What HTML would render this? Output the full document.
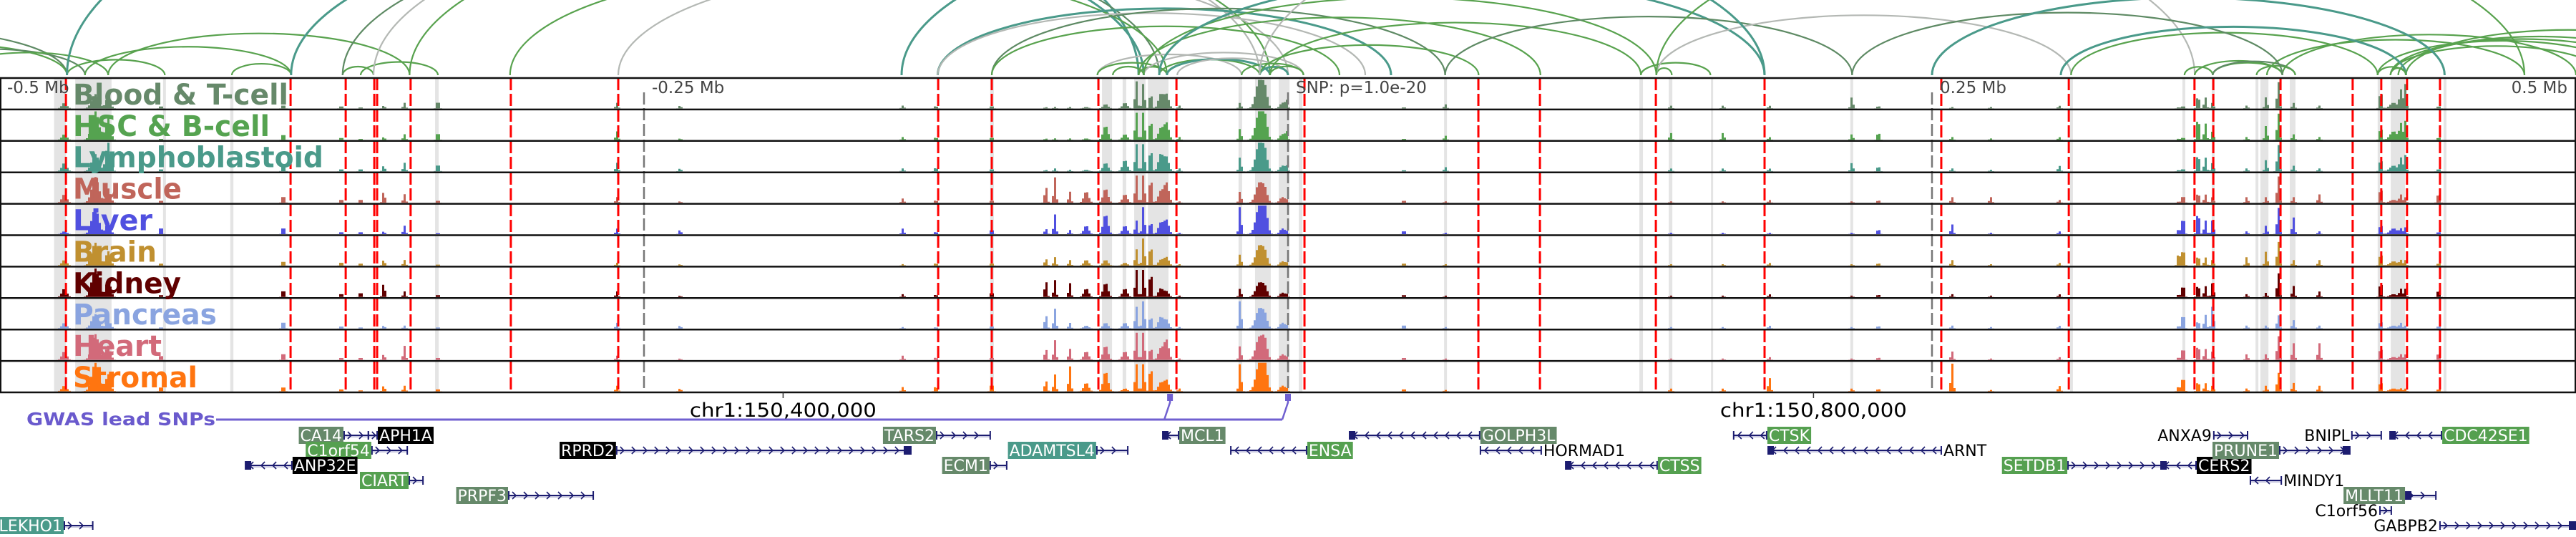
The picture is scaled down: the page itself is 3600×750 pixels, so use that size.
<!DOCTYPE html>
<html><head><meta charset="utf-8"><style>
html,body{margin:0;padding:0;background:#fff;width:3600px;height:750px;overflow:hidden}
svg{display:block}
text{font-family:"DejaVu Sans","Liberation Sans",sans-serif}
</style></head><body>
<svg id="chart" width="3600" height="750" viewBox="0 0 3600 750" xmlns="http://www.w3.org/2000/svg">
<g id="arcs"></g>
<g id="shade"></g>
<g id="signals"></g>
<g id="vlines"></g>
<g id="frames"></g>
<g id="labels"></g>
<g id="genes"></g>
</svg>
<script>
// ---- data (positions in kb relative to lead SNP) ----
const trackNames = ["Blood & T-cell","HSC & B-cell","Lymphoblastoid","Muscle","Liver","Brain","Kidney","Pancreas","Heart","Stromal"];
const trackColors = ["#66896a","#55a350","#4a9a8a","#c0655a","#5050e0","#c09030","#600000","#8aa4e0","#d26a7a","#ff7510"];
const trackLabelWidths = [301,275,350,152,111,117,151,201,124,174];
const axisTickKb = [-500,-250,0,250,500];
const axisTickLabels = ["-0.5 Mb","-0.25 Mb","SNP: p=1.0e-20","0.25 Mb","0.5 Mb"];
const peakPosKb = [-475,-463,-458,-437.5,-390,-367.5,-360,-351,-343,-330,-260.5,-236,-149.5,-136.7,-115,-94,-90.5,-84.7,-78.3,-70.8,-63.3,-58.9,-56.1,-53.3,-49.4,-47.2,-42.2,-18.6,-11.1,-8.9,-2.2,-0.6,45,61.1,148.6,168.9,186.9,218.9,229.2,257.8,272.8,299.4,345.8,347.5,353.3,356.1,358.9,372.2,379.7,384.4,390.3,400.3,424.2,429.2,431.9,433.6,446.7];
const peakWidthKb = [2,3,2,1,1,1,1,1,1,1,1,1,1,1,1,1,1,1,2,2,2,1,1,1,2,2,1,1,3,2,2,1,1,1,1,1,1,1,1,1,1,1,1,1,1,1,1,1,1,0.5,1,1,1,3,1,1,1];
const peakHeights = [
[.2,.2,.3,.3,.1,.2,.3,.2,.3,.2],[.5,1,.6,.9,.9,.8,1,.5,.9,1],[.4,.8,1,.5,.4,.5,.6,.3,.5,.6],[.1,.05,.1,.1,.3,.1,.1,.05,.2,.2],
[.15,.25,.3,.3,.3,.2,.3,.3,.3,.2],[.1,.1,.1,.15,.1,.15,.15,.1,.1,.1],[.05,.05,.1,.15,.1,.1,.2,.05,.1,.05],[.1,.1,.2,.4,.1,.2,.5,.1,.2,.2],
[.2,.2,.3,.3,.3,.2,.2,.1,.5,.2],[.3,.3,.3,.1,.05,.05,.1,.05,.1,.1],[.2,.3,.3,.2,.2,.1,.2,.2,.15,.2],[.1,.05,.1,.05,.15,.05,.05,.1,.05,.1],
[.1,.1,.1,.15,.2,.05,.1,.05,.15,.15],[.1,.1,.15,.1,.1,.1,.1,.05,.1,.2],[.1,.1,.1,.1,.2,.1,.2,.1,.1,.3],[.05,.05,.05,.6,.2,.25,.6,.5,.4,.4],
[.05,.05,.1,.9,.7,.3,.6,.7,.7,.6],[.05,.05,.05,.4,.15,.2,.5,.2,.4,.9],[.05,.05,.05,.4,.3,.2,.3,.1,.3,.3],[.15,.5,.3,.5,.7,.2,.5,.2,.5,.7],
[.2,.2,.4,.3,.3,.1,.3,.2,.3,.1],[1,1,1,1,.5,.6,1,.8,1,1],[.9,1,1,1,1,1,1,1,1,1],[.6,.8,.9,1,.5,.8,1,.5,.5,1],
[.5,.4,.6,.4,.4,.2,.3,.4,.4,.3],[.5,.6,.5,.7,.5,.3,.2,.3,.7,.4],[.1,.1,.1,.05,.05,.05,.05,.05,.05,.1],[.2,.4,.5,.4,1,.4,.3,1,.5,1],
[1,1,1,.7,1,.7,.5,.7,.8,1],[.6,.7,.6,.4,.9,.4,.3,.4,.6,.9],[.2,.2,.2,.2,.2,.15,.15,.2,.2,.2],[.3,.3,.2,.1,.1,.1,.1,.1,.1,.1],
[.05,.05,.05,.1,.15,.1,.1,.15,.1,.1],[.15,.15,.15,.05,.05,.05,.05,.05,.05,.05],[.1,.25,.1,.05,.05,.05,.05,.05,.05,.1],[.1,.25,.1,.05,.05,.05,.05,.05,.05,.1],
[.1,.1,.1,.1,.05,.1,.1,.1,.1,.5],[.4,.2,.3,.05,.05,.05,.05,.05,.05,.1],[.1,.3,.2,.1,.2,.1,.1,.1,.1,.1],[.05,.1,.1,.2,.35,.2,.1,.1,.3,1],
[.05,.05,.05,.2,.05,.05,.05,.05,.05,.05],[.1,.1,.2,.1,.1,.1,.1,.1,.1,.2],[.05,.05,.05,.05,.2,.5,.1,.1,.1,.2],[.1,.1,.1,.3,.7,.7,.5,.6,.5,.6],
[.5,.9,.7,.4,.9,.4,.5,.3,.6,.4],[.4,.6,.5,.3,.5,.3,.4,.5,.4,.3],[.2,.3,.3,.2,.5,.2,.5,.8,.3,.2],[.1,.1,.1,.2,.1,.3,.1,.1,.2,.1],
[.4,.5,.4,.2,.3,.5,.15,.1,.2,.2],[1,1,1,1,1,.9,.9,.5,.9,.7],[.2,.2,.2,.2,.6,.2,.4,.3,.6,.3],[.1,.1,.1,.3,.1,.2,.2,.1,.6,.2],
[.7,.5,.5,.6,.4,.5,.6,.3,.5,.4],[.2,.3,.2,.1,.2,.15,.1,.1,.1,.1],[.7,.6,.5,.3,.2,.2,.3,.2,.2,.1],[.9,.7,.6,.2,.25,.2,.3,.1,.2,.1],
[.1,.1,.1,.4,.1,.1,.3,.1,.3,.1]];
const redLineKb = [-474.4,-387.2,-365.8,-354.7,-353.6,-340.6,-301.7,-260,-135.8,-115,-73.6,-43.3,6.4,73.9,97.8,142.8,185,253.6,303.1,351.9,359.2,385.3,413.3,424.4,434.4,447.2];
const shadeStartKb = [-479,-470.8,-436.7,-410.6,-331.1,-115.6,-72.2,-64.2,-59.7,-54.4,-19.2,-12.8,-3.6,4.2,60.6,136.4,147.8,164.2,218.3,303.6,347.2,358.6,375.6,377.5,388.9,423,428.1,448.6];
const shadeEndKb   = [-474.4,-456.7,-435.6,-409.4,-329.7,-114.2,-68.3,-62.8,-55.3,-46.4,-17.8,-6.7,0.6,5.6,61.7,137.8,149.2,164.7,219.4,304.7,348.3,359.7,376.7,380.6,391.1,423.9,433.6,449.7];
const arcFromKb = [-600,-560,-540,-520,-474,-467,-458,-474,-410,-387,-367,-367,-360,-355,-341,-302,-260,-136,-136,-115,-115,-74,-74,-68,-58,-56,-50,-47,-43,-18,-11,-7,-58,-56,-50,-11,-7,61,137,143,143,-11,143,-150,348,352,359,359,376,380,386,304,219,423,428,431,434,428,300,250,423,428];
const arcToKb   = [-474,-474,-467,-458,-436,-387,-341,-58,-387,-56,-355,-50,-330,-11,-7,-47,0,40,30,61,20,-18,-47,-56,-47,6,-11,-7,0,6,0,6,98,143,185,74,137,219,164,149,304,352,480,185,359,386,386,391,391,480,500,423,386,520,530,540,560,510,434,449,434,434];
const arcType   = ["b","g","b","g","g","g","g","t","g","t","g","b","g","y","g","g","y","t","y","b","g","y","g","g","g","y","g","t","y","g","t","g","g","g","t","g","g","b","g","g","y","y","g","t","g","g","g","b","g","g","g","g","b","g","g","g","g","g","t","t","g","g"];
const chrTickKb = [-196, 204];
const chrTickLabels = ["chr1:150,400,000","chr1:150,800,000"];
const gwasSnpKb = [-45.8, 0];
const geneNames  = ["CA14","APH1A","C1orf54","RPRD2","ANP32E","CIART","PRPF3","PLEKHO1","TARS2","ADAMTSL4","ECM1","MCL1","ENSA","GOLPH3L","HORMAD1","CTSS","CTSK","ARNT","SETDB1","CERS2","ANXA9","PRUNE1","BNIPL","CDC42SE1","MINDY1","MLLT11","C1orf56","GABPB2"];
const geneStart  = [-366.4,-357,-355.6,-260.6,-404.7,-341.1,-302.5,-475,-136.4,-74.2,-115.6,-48.6,-22.2,23.9,74.7,107.8,173,186.4,302.8,338.9,359.4,385,413,427.8,373.6,433.9,423.9,447.2];
const geneEnd    = [-357,-353.6,-341.9,-146.4,-386.7,-335.8,-269.7,-464,-115.6,-62.2,-109.2,-42.5,7.2,74.4,98.3,143.3,185.8,253.6,338.9,352.5,372.5,412.2,424.4,447.8,385.6,445.6,428.3,500];
const geneStrand = [1,1,1,1,-1,1,1,1,1,1,1,-1,-1,-1,-1,-1,-1,-1,1,-1,1,1,1,-1,-1,1,1,1];
const geneRow    = [0,0,1,1,2,3,4,6,0,1,2,0,1,0,1,2,0,1,2,2,0,1,0,0,3,4,5,6];
const geneLabelSide = ["L","R","L","L","R","L","L","L","L","L","L","R","R","R","R","R","R","R","L","R","L","L","L","R","R","L","L","L"];
const geneLabelStyle = ["b","k","g","k","k","g","b","t","b","t","b","b","g","b","n","g","g","n","g","k","n","b","n","g","n","b","n","n"];
const geneBox = [0,0,0,2,1,0,0,0,0,0,0,1,0,1,0,1,0,1,0,1,0,2,0,1,0,1,0,2];

// ---- layout ----
const X0 = 1800, PXKB = 3.6;
const xs = kb => X0 + kb * PXKB;
const TT = 109, TH = 43.9, NT = 10, TB = TT + TH * NT;
const ARC_BASE = 105;
const NS = "http://www.w3.org/2000/svg";
function mk(tag, attrs, parent) { const e = document.createElementNS(NS, tag); for (const k in attrs) e.setAttribute(k, attrs[k]); parent.appendChild(e); return e; }
const arcColors = {b:"#5e8a64", g:"#58a24e", t:"#4a9a8a", y:"#b4b8b4"};

const gArcs = document.getElementById("arcs");
for (let i = 0; i < arcFromKb.length; i++) {
  const a = xs(arcFromKb[i]), b = xs(arcToKb[i]);
  const span = Math.abs(b - a), h = 8 + span * 0.09 + span * span * 0.00007;
  const c = arcType[i] === "t" ? 3 : 2.2;
  const p = mk("path", {d:`M${a},${ARC_BASE} A${span/2},${h} 0 0 1 ${b},${ARC_BASE}`, fill:"none", stroke:arcColors[arcType[i]], "stroke-width":c}, gArcs);
  
  
}

const gShade = document.getElementById("shade");
for (let i = 0; i < shadeStartKb.length; i++) {
  const a = xs(shadeStartKb[i]), b = xs(shadeEndKb[i]);
  const r = mk("rect", {x:a, y:TT, width:Math.max(3, b - a), height:TB - TT, fill:"#e4e4e4"}, gShade);
  
  
}

const gSig = document.getElementById("signals");
for (let t = 0; t < NT; t++) {
  const base = TT + TH * (t + 1) - 1.5, maxH = TH - 4;
  let d = `M0,${base}`;
  for (let x = 0; x < 3600; x += 3) {
    let v = 0;
    const xc = x + 1.5;
    for (let k = 0; k < peakPosKb.length; k++) {
      const s = Math.max(1.6, peakWidthKb[k] * PXKB / 2.2);
      const dx = (xc - xs(peakPosKb[k])) / s;
      if (Math.abs(dx) < 4) v += peakHeights[k][t] * Math.exp(-0.5 * dx * dx);
    }
    v = Math.min(1, v);
    const y = (base - v * maxH).toFixed(1);
    d += `L${x},${y}L${x + 3},${y}`;
  }
  d += `L3600,${base}Z`;
  const p = mk("path", {d, fill:trackColors[t]}, gSig);
  
  
}

const gV = document.getElementById("vlines");
for (let i = 0; i < redLineKb.length; i++) {
  const x = xs(redLineKb[i]);
  const l = mk("line", {x1:x, x2:x, y1:TT, y2:TB, stroke:"#ff0000", "stroke-width":3, "stroke-dasharray":"17 5"}, gV);
  
  
}
for (let i = 1; i < 4; i++) {
  const x = xs(axisTickKb[i]);
  const l = mk("line", {x1:x, x2:x, y1:TT + 20, y2:TB, stroke:"#777", "stroke-width":2.5, "stroke-dasharray":"17 5"}, gV);
  
  
}

const gF = document.getElementById("frames");
for (let t = 0; t <= NT; t++) {
  const y = TT + TH * t;
  const l = mk("line", {x1:0, x2:3600, y1:y, y2:y, stroke:"#111", "stroke-width":2.5}, gF);
  
  
}
const fl = mk("line", {x1:1, x2:1, y1:TT, y2:TB, stroke:"#111", "stroke-width":2}, gF);


const fr = mk("line", {x1:3599, x2:3599, y1:TT, y2:TB, stroke:"#111", "stroke-width":2}, gF);



const gL = document.getElementById("labels");
for (let t = 0; t < NT; t++) {
  const y = TT + TH * (t + 1) - 7;
  const tx = mk("text", {x:102, y, fill:trackColors[t], "font-size":40, "font-weight":"bold", textLength:trackLabelWidths[t], lengthAdjust:"spacingAndGlyphs"}, gL);
  tx.textContent = trackNames[t];
  
  
}
for (let i = 0; i < axisTickKb.length; i++) {
  let x = xs(axisTickKb[i]), anchor = "start";
  if (i === 0) x = 10; else x += 11;
  if (i === 4) { x = 3588; anchor = "end"; }
  const tx = mk("text", {x, y:130, fill:"#444", "font-size":23, "text-anchor":anchor}, gL);
  tx.textContent = axisTickLabels[i];
  
  
}

const gG = document.getElementById("genes");
for (let i = 0; i < chrTickKb.length; i++) {
  const x = xs(chrTickKb[i]);
  const l = mk("line", {x1:x, x2:x, y1:TB, y2:TB + 8, stroke:"#333", "stroke-width":1.5}, gG);
  
  
  const tx = mk("text", {x, y:582, "font-size":27, "text-anchor":"middle", fill:"#000", textLength:261, lengthAdjust:"spacingAndGlyphs"}, gG);
  tx.textContent = chrTickLabels[i];
  
  
}
const gw = mk("text", {x:37, y:594, "font-size":25, "font-weight":"bold", fill:"#6a5acd", textLength:264, lengthAdjust:"spacingAndGlyphs"}, gG);
gw.textContent = "GWAS lead SNPs";


const gl = mk("line", {x1:302, x2:xs(gwasSnpKb[1]) - 8, y1:586, y2:586, stroke:"#7060d0", "stroke-width":3}, gG);


for (let i = 0; i < gwasSnpKb.length; i++) {
  const x = xs(gwasSnpKb[i]);
  const c = mk("path", {d:`M${x - 8},586 L${x},562 L${x},556`, fill:"none", stroke:"#7060d0", "stroke-width":2.5}, gG);
  
  
  const r = mk("rect", {x:x - 4, y:550, width:8, height:10, fill:"#7060d0"}, gG);
  
  
}
const labelBg = {b:"#66896a", g:"#55a050", t:"#4a9a8a", k:"#000", n:null};
for (let i = 0; i < geneNames.length; i++) {
  const a = xs(geneStart[i]), b = xs(geneEnd[i]), y = 608 + geneRow[i] * 21;
  const g = mk("g", {}, gG);
  
  
  mk("line", {x1:a, x2:b, y1:y, y2:y, stroke:"#1c1c70", "stroke-width":2}, g);
  mk("line", {x1:a, x2:b, y1:y + 2, y2:y + 2, stroke:"#9090c0", "stroke-width":1}, g);
  let ch = "";
  for (let x = a + 8; x < b - 4; x += 16) {
    if (geneStrand[i] > 0) ch += `M${x - 3},${y - 5}L${x + 2},${y}L${x - 3},${y + 5}`;
    else ch += `M${x + 3},${y - 5}L${x - 2},${y}L${x + 3},${y + 5}`;
  }
  mk("path", {d:ch, fill:"none", stroke:"#1c1c70", "stroke-width":1.6}, g);
  mk("line", {x1:a, x2:a, y1:y - 6, y2:y + 6, stroke:"#1c1c70", "stroke-width":2}, g);
  mk("line", {x1:b, x2:b, y1:y - 6, y2:y + 6, stroke:"#1c1c70", "stroke-width":2}, g);
  if (geneBox[i] === 1) mk("rect", {x:a, y:y - 6, width:8, height:12, fill:"#1c1c70"}, g);
  if (geneBox[i] === 2) mk("rect", {x:b - 10, y:y - 6, width:10, height:12, fill:"#1c1c70"}, g);
  const fs = 22;
  const tmp = mk("text", {x:0, y:0, "font-size":fs}, g);
  tmp.textContent = geneNames[i];
  const w = tmp.getComputedTextLength() + 4;
  g.removeChild(tmp);
  const lx = geneLabelSide[i] === "L" ? a - 1 - w : b + 1;
  const bg = labelBg[geneLabelStyle[i]];
  if (bg) mk("rect", {x:lx, y:y - 12, width:w, height:24, fill:bg}, g);
  const tx = mk("text", {x:lx + 2, y:y + 8, "font-size":fs, fill:bg ? "#fff" : "#000"}, g);
  tx.textContent = geneNames[i];
}
</script>
</body></html>
